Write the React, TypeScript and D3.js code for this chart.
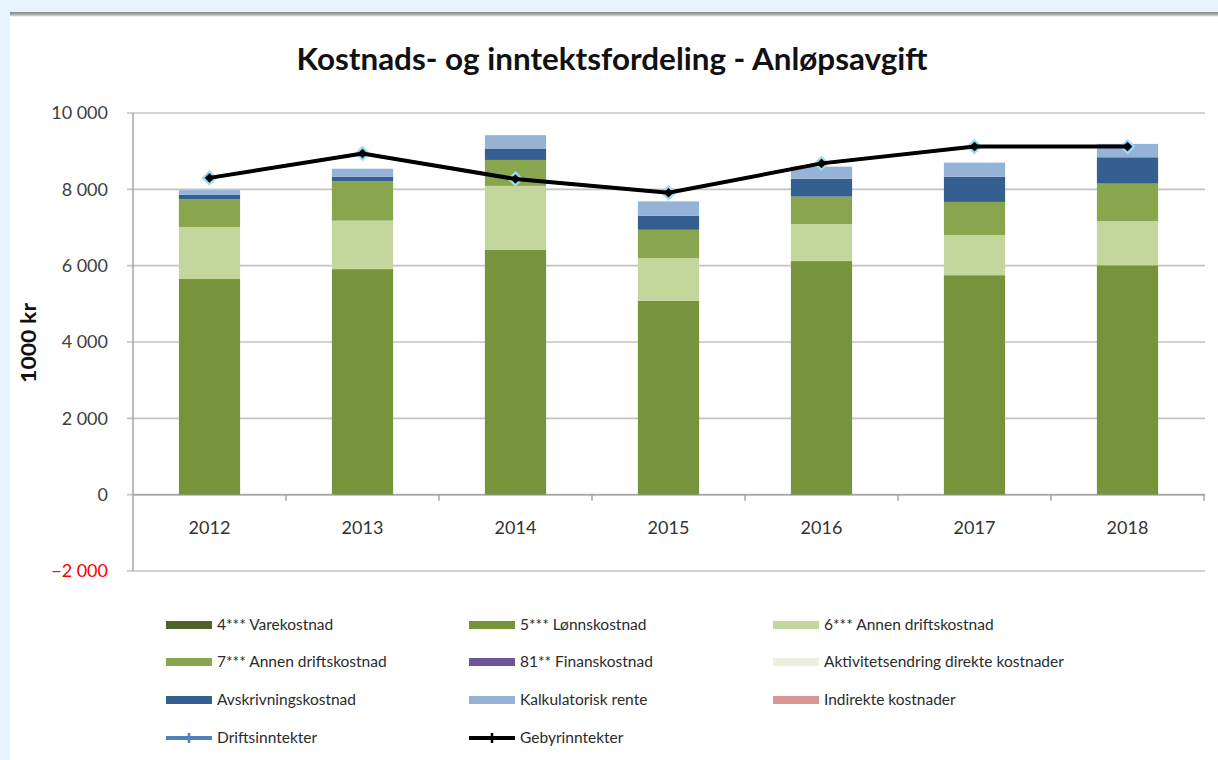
import React from "react";
import * as d3 from "d3";

const years = ["2012", "2013", "2014", "2015", "2016", "2017", "2018"];
const vareKostnad = [0, 0, 0, 0, 0, 0, 0];
const lonnsKostnad = [5650, 5910, 6410, 5080, 6120, 5750, 6010];
const annenDrift6 = [1360, 1270, 1680, 1120, 970, 1050, 1160];
const annenDrift7 = [730, 1030, 680, 740, 720, 870, 980];
const finansKostnad = [0, 0, 0, 0, 0, 0, 0];
const aktivitetsendring = [0, 0, 0, 0, 0, 0, 0];
const avskrivning = [120, 120, 300, 370, 470, 660, 690];
const kalkRente = [120, 210, 350, 375, 315, 370, 350];
const indirekte = [0, 0, 0, 0, 0, 0, 0];
const driftsinntekter = [8300, 8940, 8270, 7910, 8680, 9120, 9120];
const gebyrinntekter = [8300, 8940, 8270, 7910, 8680, 9120, 9120];
const yTicks = [-2000, 0, 2000, 4000, 6000, 8000, 10000];

const barSeries = [
  { key: "vare", label: "4*** Varekostnad", values: vareKostnad, color: "#4f6228" },
  { key: "lonn", label: "5*** Lønnskostnad", values: lonnsKostnad, color: "#77933c" },
  { key: "a6", label: "6*** Annen driftskostnad", values: annenDrift6, color: "#c3d69b" },
  { key: "a7", label: "7*** Annen driftskostnad", values: annenDrift7, color: "#89a54e" },
  { key: "fin", label: "81** Finanskostnad", values: finansKostnad, color: "#6f5597" },
  { key: "akt", label: "Aktivitetsendring direkte kostnader", values: aktivitetsendring, color: "#ebf1de" },
  { key: "avs", label: "Avskrivningskostnad", values: avskrivning, color: "#355f91" },
  { key: "kalk", label: "Kalkulatorisk rente", values: kalkRente, color: "#95b3d7" },
  { key: "ind", label: "Indirekte kostnader", values: indirekte, color: "#d99694" },
];

const FONT = "Lato, 'Open Sans', sans-serif";

export default function App() {
  const W = 1218, H = 760;
  const x = d3.scaleBand<string>().domain(years).range([133, 1204]).paddingInner(0.6).paddingOuter(0.3);
  const xStep = d3.scaleBand<string>().domain(years).range([133, 1204]);
  const y = d3.scaleLinear().domain([-2000, 10000]).range([571, 113]);

  const table = years.map((yr, i) => {
    const row: any = { year: yr };
    barSeries.forEach((s) => (row[s.key] = s.values[i]));
    return row;
  });
  const stacked = d3.stack().keys(barSeries.map((s) => s.key))(table);

  const cx = (yr: string) => (x(yr) as number) + x.bandwidth() / 2;
  const line = d3.line<number>().x((_, i) => cx(years[i])).y((d) => y(d));

  const legendCols = [166, 469, 773];
  const legendRows = [625, 662, 700, 738];
  const legendItems = [
    ...barSeries.map((s) => ({ label: s.label, color: s.color, type: "bar" })),
    { label: "Driftsinntekter", color: "#4f81bd", type: "line" },
    { label: "Gebyrinntekter", color: "#000000", type: "line" },
  ];

  const diamond = (px: number, py: number, r: number) =>
    `M${px},${py - r}L${px + r},${py}L${px},${py + r}L${px - r},${py}Z`;

  return (
    <div style={{ position: "absolute", left: 0, top: 0 }}>
      <svg width={W} height={H} style={{ display: "block" }}>
        <defs>
          <linearGradient id="topShade" x1="0" y1="0" x2="0" y2="1">
            <stop offset="0" stopColor="#7f8589" />
            <stop offset="0.5" stopColor="#a9aeb1" />
            <stop offset="1" stopColor="#ffffff" />
          </linearGradient>
        </defs>
        <rect x={0} y={0} width={W} height={H} fill="#e8f4fd" />
        <rect x={10} y={12} width={W - 10} height={H - 12} fill="#ffffff" />
        <rect x={10} y={12} width={W - 10} height={5} fill="url(#topShade)" />

        <text
          x={612}
          y={70}
          textAnchor="middle"
          fontFamily={FONT}
          fontWeight={700}
          fontSize={30}
          fill="#111"
          textLength={631}
          lengthAdjust="spacingAndGlyphs"
        >
          Kostnads- og inntektsfordeling - Anløpsavgift
        </text>

        {/* gridlines */}
        {yTicks.map((t) => (
          <g key={t}>
            <line x1={127} x2={1205} y1={y(t)} y2={y(t)} stroke="#c4c4c4" strokeWidth={1.6} />
            <text
              x={108}
              y={y(t)}
              dy="0.35em"
              textAnchor="end"
              fontFamily={FONT}
              fontSize={18}
              fill={t < 0 ? "#ff0000" : "#404040"}
            >
              {d3.format(",")(t).replace(/,/g, " ")}
            </text>
          </g>
        ))}
        <line x1={133} x2={133} y1={113} y2={571} stroke="#a6a6a6" strokeWidth={1.5} />
        <line x1={133} x2={1205} y1={y(0)} y2={y(0)} stroke="#a6a6a6" strokeWidth={1.5} />
        {years.map((yr) => (
          <line
            key={"t" + yr}
            x1={(xStep(yr) as number) + xStep.bandwidth()}
            x2={(xStep(yr) as number) + xStep.bandwidth()}
            y1={y(0)}
            y2={y(0) + 6}
            stroke="#a6a6a6"
            strokeWidth={1.5}
          />
        ))}

        <text
          transform="translate(36,343) rotate(-90)"
          textAnchor="middle"
          fontFamily={FONT}
          fontWeight={700}
          fontSize={21}
          fill="#111"
          textLength={80}
          lengthAdjust="spacingAndGlyphs"
        >
          1000 kr
        </text>

        {/* bars */}
        {stacked.map((layer, li) => (
          <g key={layer.key} fill={barSeries[li].color}>
            {layer.map((d, i) =>
              d[1] - d[0] > 0 ? (
                <rect
                  key={i}
                  x={x(years[i])}
                  width={x.bandwidth()}
                  y={y(d[1])}
                  height={y(d[0]) - y(d[1])}
                />
              ) : null
            )}
          </g>
        ))}

        {years.map((yr) => (
          <text key={"xl" + yr} x={cx(yr)} y={534} textAnchor="middle" fontFamily={FONT} fontSize={18} fill="#333">
            {yr}
          </text>
        ))}

        {/* lines */}
        <path d={line(driftsinntekter) || ""} fill="none" stroke="#4f81bd" strokeWidth={3} />
        {driftsinntekter.map((v, i) => (
          <path key={"dm" + i} d={diamond(cx(years[i]), y(v), 6.5)} fill="#4f81bd" stroke="#9fdcef" strokeWidth={2} />
        ))}
        <path d={line(gebyrinntekter) || ""} fill="none" stroke="#000" strokeWidth={4} />
        {gebyrinntekter.map((v, i) => (
          <path key={"gm" + i} d={diamond(cx(years[i]), y(v), 4.5)} fill="#000" />
        ))}

        {/* legend */}
        {legendItems.map((it, i) => {
          const lx = legendCols[i % 3];
          const ly = legendRows[Math.floor(i / 3)];
          return (
            <g key={"lg" + i}>
              {it.type === "bar" ? (
                <rect x={lx} y={ly - 4} width={46} height={8} fill={it.color} />
              ) : (
                <g>
                  <line x1={lx} x2={lx + 46} y1={ly} y2={ly} stroke={it.color} strokeWidth={4} />
                  <line x1={lx + 23} x2={lx + 23} y1={ly - 5} y2={ly + 5} stroke={it.color} strokeWidth={2.5} />
                </g>
              )}
              <text x={lx + 51} y={ly} dy="0.35em" fontFamily={FONT} fontSize={15.5} fill="#2b2b2b">
                {it.label}
              </text>
            </g>
          );
        })}
      </svg>
    </div>
  );
}
